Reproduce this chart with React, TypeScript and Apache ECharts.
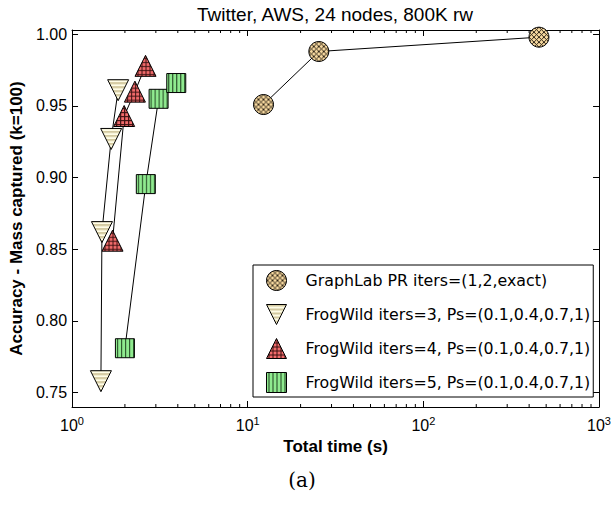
import React, { useEffect, useRef } from "react";
import * as echarts from "echarts";

const titleText = "Twitter, AWS, 24 nodes, 800K rw";
const xTitle = "Total time (s)";
const yTitle = "Accuracy - Mass captured (k=100)";
const caption = "(a)";

const seriesNames = [
  "GraphLab PR iters=(1,2,exact)",
  "FrogWild iters=3, Ps=(0.1,0.4,0.7,1)",
  "FrogWild iters=4, Ps=(0.1,0.4,0.7,1)",
  "FrogWild iters=5, Ps=(0.1,0.4,0.7,1)",
];

const graphlabTime = [12.3, 25.4, 455];
const graphlabAcc = [0.951, 0.988, 0.998];
const fw3Time = [1.46, 1.48, 1.67, 1.83];
const fw3Acc = [0.758, 0.862, 0.927, 0.961];
const fw4Time = [1.7, 1.98, 2.28, 2.62];
const fw4Acc = [0.856, 0.943, 0.96, 0.978];
const fw5Time = [2.0, 2.63, 3.11, 3.92];
const fw5Acc = [0.781, 0.8955, 0.955, 0.966];

const yTicks = [0.75, 0.8, 0.85, 0.9, 0.95, 1.0];
const xMinor = [2, 3, 4, 5, 6, 7, 8, 9, 20, 30, 40, 50, 60, 70, 80, 90, 200, 300, 400, 500, 600, 700, 800, 900];

function makePattern(w: number, h: number, draw: (ctx: CanvasRenderingContext2D) => void) {
  const c = document.createElement("canvas");
  c.width = w;
  c.height = h;
  const ctx = c.getContext("2d") as CanvasRenderingContext2D;
  draw(ctx);
  const url = c.toDataURL();
  return (scale: number) => ({
    image: url,
    repeat: "repeat",
    imageWidth: w,
    imageHeight: h,
    scaleX: scale,
    scaleY: scale,
  });
}

export default function App() {
  const ref = useRef<HTMLDivElement>(null);
  useEffect(() => {
    if (!ref.current) return;
    const chart = echarts.init(ref.current, undefined, { renderer: "svg" });

    const crossPat = makePattern(5, 5, (ctx) => {
      ctx.fillStyle = "#F7D9A0";
      ctx.fillRect(0, 0, 5, 5);
      ctx.strokeStyle = "#1a1208";
      ctx.lineWidth = 0.9;
      ctx.beginPath();
      ctx.moveTo(0, 0); ctx.lineTo(5, 5);
      ctx.moveTo(5, 0); ctx.lineTo(0, 5);
      ctx.stroke();
    });
    const hStripePat = makePattern(4, 4, (ctx) => {
      ctx.fillStyle = "#FFFDE6";
      ctx.fillRect(0, 0, 4, 4);
      ctx.fillStyle = "#D3C9A0";
      ctx.fillRect(0, 0, 4, 2);
    });
    const gridPat = makePattern(4, 4, (ctx) => {
      ctx.fillStyle = "#F26B6B";
      ctx.fillRect(0, 0, 4, 4);
      ctx.fillStyle = "#3a1010";
      ctx.fillRect(0, 0, 4, 1);
      ctx.fillRect(0, 0, 1, 4);
    });
    const vStripePat = makePattern(4, 4, (ctx) => {
      ctx.fillStyle = "#8FEA8F";
      ctx.fillRect(0, 0, 4, 4);
      ctx.fillStyle = "#1f401f";
      ctx.fillRect(0, 0, 1, 4);
    });

    const downTri = "path://M0,0 L20,0 L10,20 Z";
    const upTri = "path://M10,0 L20,20 L0,20 Z";
    const square = "path://M0,0 L20,0 L20,20 L0,20 Z";
    const zip = (xs: number[], ys: number[]) => xs.map((x, i) => [x, ys[i]]);

    const mkSeries = (name: string, data: number[][], symbol: string, size: number, pat: any) => ({
      name,
      type: "line",
      data,
      symbol,
      symbolSize: size,
      showAllSymbol: true,
      lineStyle: { color: "#000", width: 1 },
      itemStyle: { color: pat(2 / size), borderColor: "#000", borderWidth: 1 },
      emphasis: { disabled: true },
      xAxisIndex: 0,
      yAxisIndex: 0,
    });

    const axisFont = "Liberation Sans";

    chart.setOption({
      animation: false,
      graphic: [
        {
          type: "text",
          x: 335,
          y: 14,
          style: {
            text: titleText,
            textAlign: "center",
            textVerticalAlign: "middle",
            fontFamily: axisFont,
            fontSize: 19,
            fill: "#000",
          },
        },
        {
          type: "text",
          x: 302,
          y: 480,
          style: {
            text: caption,
            textAlign: "center",
            textVerticalAlign: "middle",
            fontFamily: "DejaVu Serif",
            fontSize: 20,
            fill: "#000",
          },
        },
      ],
      grid: { left: 67, right: 11, top: 30, bottom: 99 },
      legend: {
        orient: "vertical",
        left: 253,
        top: 265,
        padding: [5, 3, 4, 13],
        itemWidth: 48,
        itemHeight: 20,
        itemGap: 13,
        borderColor: "#000",
        borderWidth: 1,
        backgroundColor: "#fff",
        itemStyle: { borderColor: "#000", borderWidth: 1 },
        textStyle: { fontFamily: "DejaVu Sans", fontSize: 15.8, color: "#000", lineHeight: 20 },
        data: [
          { name: seriesNames[0], icon: "circle", itemStyle: { color: crossPat(1) } },
          { name: seriesNames[1], icon: downTri, itemStyle: { color: hStripePat(1) } },
          { name: seriesNames[2], icon: upTri, itemStyle: { color: gridPat(1) } },
          { name: seriesNames[3], icon: square, itemStyle: { color: vStripePat(1) } },
        ],
      },
      xAxis: [
        {
          type: "log",
          logBase: 10,
          min: 1,
          max: 1000,
          name: xTitle,
          nameLocation: "middle",
          nameGap: 29,
          nameTextStyle: { fontFamily: axisFont, fontSize: 17, fontWeight: "bold", color: "#000" },
          axisLine: { lineStyle: { color: "#000", width: 1 } },
          axisTick: { inside: true, length: 6, lineStyle: { color: "#000" } },
          splitLine: { show: false },
          axisLabel: {
            margin: 8,
            formatter: (v: number) => `{b|10}{s|${Math.round(Math.log10(v))}}`,
            rich: {
              b: { fontFamily: axisFont, fontSize: 16, color: "#000" },
              s: { fontFamily: axisFont, fontSize: 11, color: "#000", padding: [0, 0, 9, 0] },
            },
          },
        },
        {
          type: "log",
          logBase: 10,
          min: 1,
          max: 1000,
          position: "top",
          axisLine: { show: true, lineStyle: { color: "#000", width: 1 } },
          axisTick: { inside: true, length: 6, lineStyle: { color: "#000" } },
          axisLabel: { show: false },
          splitLine: { show: false },
        },
      ],
      yAxis: [
        {
          type: "value",
          min: 0.74,
          max: 1.003,
          name: yTitle,
          nameLocation: "middle",
          nameRotate: 90,
          nameGap: 41,
          nameTextStyle: { fontFamily: axisFont, fontSize: 17, fontWeight: "bold", color: "#000" },
          axisLine: { show: true, lineStyle: { color: "#000", width: 1 } },
          axisTick: { show: true, inside: true, length: 6, lineStyle: { color: "#000" }, customValues: yTicks },
          splitLine: { show: false },
          axisLabel: {
            customValues: yTicks,
            margin: 5,
            formatter: (v: number) => v.toFixed(2),
            fontFamily: axisFont,
            fontSize: 16,
            color: "#000",
          },
        },
        {
          type: "value",
          min: 0.74,
          max: 1.003,
          position: "right",
          axisLine: { show: true, lineStyle: { color: "#000", width: 1 } },
          axisTick: { show: true, inside: true, length: 6, lineStyle: { color: "#000" }, customValues: yTicks },
          axisLabel: { show: false, customValues: yTicks },
          splitLine: { show: false },
        },
      ],
      series: [
        {
          name: "minorTicks",
          type: "custom",
          silent: true,
          xAxisIndex: 0,
          yAxisIndex: 0,
          data: xMinor.map((v) => [v, 0.8]),
          renderItem: (params: any, api: any) => {
            const x = api.coord([api.value(0), api.value(1)])[0];
            const cs = params.coordSys;
            return {
              type: "group",
              children: [
                { type: "line", shape: { x1: x, y1: cs.y + cs.height, x2: x, y2: cs.y + cs.height - 3 }, style: { stroke: "#000", lineWidth: 1 } },
                { type: "line", shape: { x1: x, y1: cs.y, x2: x, y2: cs.y + 3 }, style: { stroke: "#000", lineWidth: 1 } },
              ],
            };
          },
        },
        mkSeries(seriesNames[0], zip(graphlabTime, graphlabAcc), "circle", 20, crossPat),
        mkSeries(seriesNames[1], zip(fw3Time, fw3Acc), downTri, 21, hStripePat),
        mkSeries(seriesNames[2], zip(fw4Time, fw4Acc), upTri, 21, gridPat),
        mkSeries(seriesNames[3], zip(fw5Time, fw5Acc), square, 19, vStripePat),
      ],
    });
    return () => chart.dispose();
  }, []);
  return <div ref={ref} style={{ position: "absolute", left: 0, top: 0, width: 614, height: 506, background: "#fff" }} />;
}
